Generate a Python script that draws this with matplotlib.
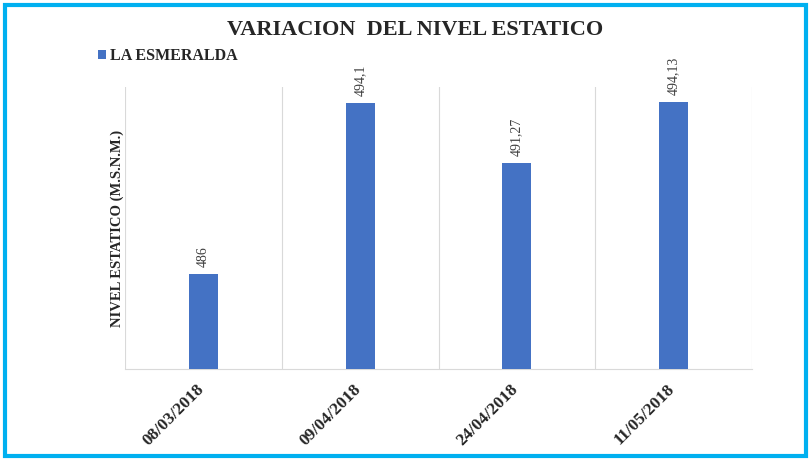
import matplotlib.pyplot as plt
import matplotlib.transforms as mtransforms
from matplotlib.patches import Rectangle

plt.rcParams['font.family'] = ['Liberation Serif', 'DejaVu Serif']

fechas = ["08/03/2018", "09/04/2018", "24/04/2018", "11/05/2018"]
nivel = [486, 494.1, 491.27, 494.13]
etiquetas = ["486", "494,1", "491,27", "494,13"]

fig = plt.figure(figsize=(8.11, 4.59), dpi=100)
ax = fig.add_axes([125 / 811, 1 - 369 / 459, (752 - 125) / 811, (369 - 87) / 459])

x = range(len(fechas))
ax.bar(x, nivel, width=0.185, color="#4472C4", zorder=3, label="LA ESMERALDA")

for i, (v, t) in enumerate(zip(nivel, etiquetas)):
    ax.annotate(t, (i, v), xytext=(0, 5), textcoords="offset points",
                rotation=90, ha="center", va="bottom", fontsize=10, color="#404040")

ax.set_xlim(-0.5, len(fechas) - 0.5)
ax.set_ylim(481.5, 494.86)

# lineas verticales entre fechas
for b in [i - 0.5 for i in range(len(fechas) + 1)]:
    ax.axvline(b, color="#D9D9D9", lw=0.8, zorder=1)

for s in ["top", "right", "left"]:
    ax.spines[s].set_visible(False)
ax.spines["bottom"].set_color("#D9D9D9")

ax.set_yticks([])
ax.set_xticks(list(x))
ax.set_xticklabels(fechas, rotation=45, ha="right", rotation_mode="anchor",
                   fontsize=12.5, fontweight="bold", color="#262626")
ax.tick_params(axis="x", length=0, pad=9)
desplaza = mtransforms.ScaledTranslation(-7 / 100, 0, fig.dpi_scale_trans)
for lbl in ax.get_xticklabels():
    lbl.set_transform(lbl.get_transform() + desplaza)

ax.set_ylabel("NIVEL ESTATICO (M.S.N.M.)", fontsize=10.5, fontweight="bold",
              color="#262626", labelpad=1)

fig.text(415 / 811, 1 - 30 / 459, "VARIACION  DEL NIVEL ESTATICO", ha="center",
         va="center", fontsize=16, fontweight="bold", color="#262626")

fig.legend(loc="center left", bbox_to_anchor=(84 / 811, 1 - 56 / 459), frameon=False,
           handlelength=0.45, handleheight=0.45, handletextpad=0.3,
           prop={"weight": "bold", "size": 11.5}, labelcolor="#262626")

# marco exterior
fig.patches.append(Rectangle((5 / 811, 3 / 459), 801 / 811, 451 / 459,
                             transform=fig.transFigure, fill=False,
                             edgecolor="#00B0F0", lw=3))

fig.savefig("out.png", dpi=100)
